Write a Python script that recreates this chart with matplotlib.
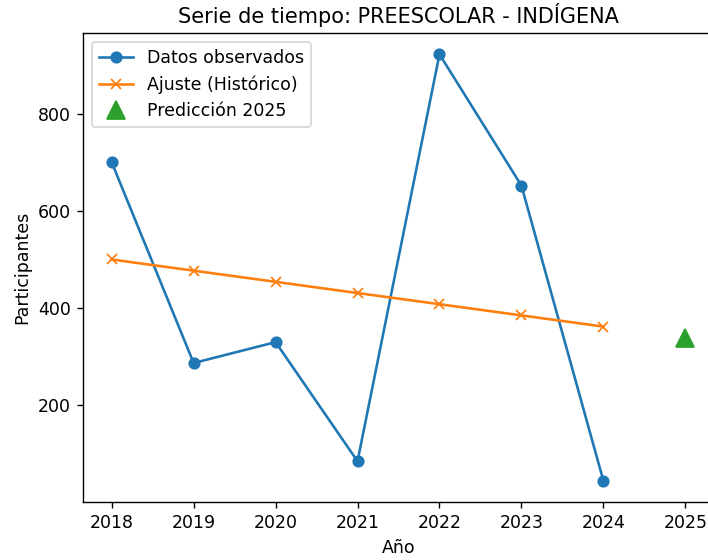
import matplotlib
matplotlib.use('Agg')
import matplotlib.pyplot as plt

# datos
anios = [2018, 2019, 2020, 2021, 2022, 2023, 2024]
observados = [700, 287, 330, 85, 922, 652, 45]
ajuste = [500, 477, 454, 431, 408, 385, 362]
anio_pred = [2025]
prediccion = [339]

DPI = 125
fig = plt.figure(figsize=(708 / DPI, 560 / DPI), dpi=DPI)
ax = fig.add_axes([83 / 708, 58 / 560, 631 / 708, 469 / 560])

ax.plot(anios, observados, marker='o', color='#1f77b4', label='Datos observados')
ax.plot(anios, ajuste, marker='x', color='#ff7f0e', label='Ajuste (Histórico)')
ax.plot(anio_pred, prediccion, marker='^', markersize=10, linestyle='', color='#2ca02c', label='Predicción 2025')

ax.set_xticks(anios + anio_pred)
ax.set_yticks([200, 400, 600, 800])
ax.set_title('Serie de tiempo: PREESCOLAR - INDÍGENA')
ax.set_xlabel('Año')
ax.set_ylabel('Participantes')
ax.legend(loc='upper left')

fig.savefig('out.png', dpi=DPI)
